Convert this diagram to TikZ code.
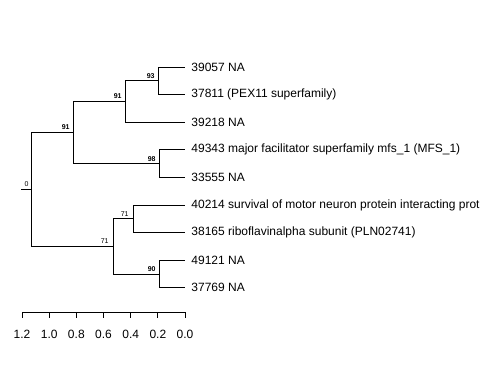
\documentclass[tikz,border=0pt]{standalone}
\usepackage{fontspec}
\setmainfont{Liberation Sans}
\usetikzlibrary{positioning}

\begin{document}
\begin{tikzpicture}[x=1pt,y=-1pt,line width=0.9pt,
leaf/.style = {anchor=west, inner xsep=6pt, inner ysep=0pt, font=\fontsize{12}{14}\selectfont},
boot/.style = {inner sep=0pt, font=\fontsize{7}{8}\selectfont\bfseries},
weak/.style = {inner sep=0pt, font=\fontsize{7}{8}\selectfont},
elbow/.style = {to path={|- (\tikztotarget)}}]

\useasboundingbox (0,0) rectangle (480,384);

% tips
\node[leaf] (39057) at (185,67.0) {39057 NA};
\node[leaf] (37811) at (185,94.6) {37811 (PEX11 superfamily)};
\node[leaf] (39218) at (185,122.2) {39218 NA};
\node[leaf] (49343) at (185,149.8) {49343 major facilitator superfamily mfs\_1 (MFS\_1)};
\node[leaf] (33555) at (185,177.4) {33555 NA};
\node[leaf] (40214) at (185,205.0) {40214 survival of motor neuron protein interacting prot};
\node[leaf] (38165) at (185,232.6) {38165 riboflavinalpha subunit (PLN02741)};
\node[leaf] (49121) at (185,260.2) {49121 NA};
\node[leaf] (37769) at (185,287.8) {37769 NA};

% inner nodes
\coordinate (a) at (158,80.8);
\coordinate (b) at (125,101.5);
\coordinate (c) at (159,163.6);
\coordinate (d) at (73,132.5);
\coordinate (e) at (133,218.8);
\coordinate (f) at (159,274.0);
\coordinate (g) at (113,246.4);
\coordinate (r) at (31,189.5);
\coordinate (s) at (21,189.5);

\node[boot] [above left=2pt and 3pt of a] {93};
\node[boot] [above left=2pt and 3pt of b] {91};
\node[boot] [above left=2pt and 3pt of c] {98};
\node[boot] [above left=2pt and 3pt of d] {91};
\node[weak] [above left=2pt and 4pt of e] {71};
\node[weak] [above left=2pt and 4pt of g] {71};
\node[boot] [above left=2pt and 3pt of f] {90};
\node[weak] [above left=2pt and 2pt of r] {0};

\path[elbow]
(a) edge (39057.west)
    edge (37811.west)
(b) edge (a)
    edge (39218.west)
(c) edge (49343.west)
    edge (33555.west)
(d) edge (b)
    edge (c)
(e) edge (40214.west)
    edge (38165.west)
(f) edge (49121.west)
    edge (37769.west)
(g) edge (e)
    edge (f)
(r) edge (d)
    edge (g);
\draw (s) -- (r);

% scale
\coordinate (x0) at (22,312);
\coordinate (x1) at (185,312);
\draw (x0) -- (x1);
\foreach \v [count=\i from 0] in {1.2,1.0,0.8,0.6,0.4,0.2,0.0} {
  \draw (22+\i*27.17,312) -- (22+\i*27.17,318);
  \node[inner sep=0pt, font=\fontsize{12}{14}\selectfont] at (22+\i*27.17,334) {\v};
}
\end{tikzpicture}
\end{document}
